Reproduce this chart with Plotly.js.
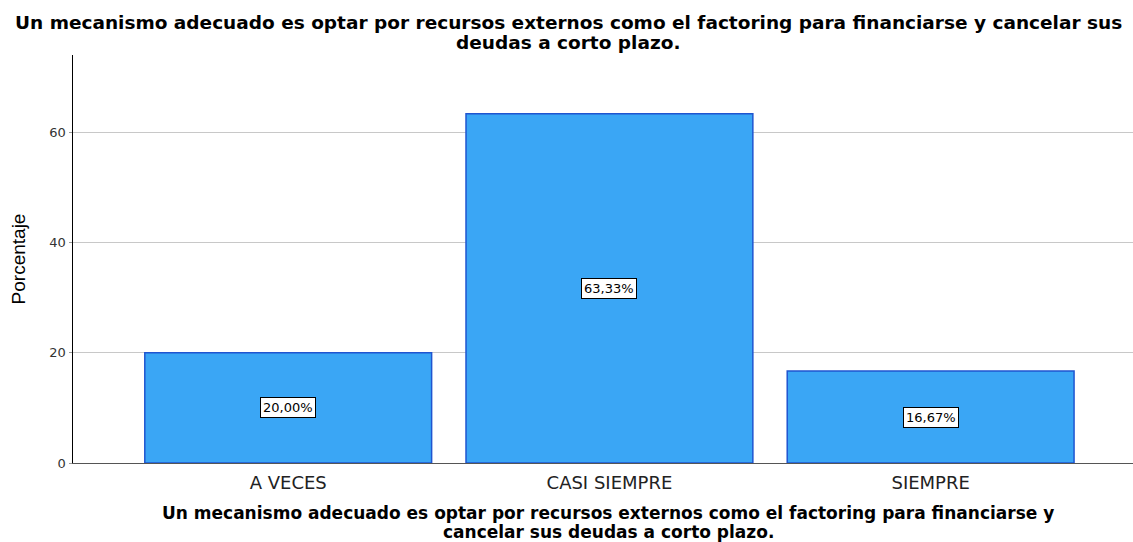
<!DOCTYPE html>
<html>
<head>
<meta charset="utf-8">
<script src="https://cdn.plot.ly/plotly-3.0.1.min.js"></script>
<style>html,body{margin:0;padding:0;background:#fff;}#chart{width:1133px;height:542px;}</style>
</head>
<body>
<div id="chart"></div>
<script>
const categories = ["A VECES", "CASI SIEMPRE", "SIEMPRE"];
const values = [20.00, 63.33, 16.67];
const labels = ["20,00%", "63,33%", "16,67%"];
const yTicks = [0, 20, 40, 60];
const titleLines = ["Un mecanismo adecuado es optar por recursos externos como el factoring para financiarse y cancelar sus", "deudas a corto plazo."];
const xTitleLines = ["Un mecanismo adecuado es optar por recursos externos como el factoring para financiarse y", "cancelar sus deudas a corto plazo."];
const yTitle = "Porcentaje";

const FONT = "DejaVu Sans, Liberation Sans, Arial";

const trace = {
  type: "bar",
  x: categories,
  y: values,
  width: 0.893,
  marker: {color: "#3aa6f5", line: {color: "#1f55d0", width: 1.5}},
  hoverinfo: "none"
};

const annotations = categories.map((c, i) => ({
  x: c, y: values[i] / 2, xref: "x", yref: "y",
  text: labels[i], showarrow: false,
  font: {family: FONT, size: 13, color: "#000"},
  bgcolor: "#fff", bordercolor: "#000", borderwidth: 1, borderpad: 2
}));

const titleY = [22, 42];
titleLines.forEach((t, i) => annotations.push({
  xref: "paper", yref: "paper", x: (568 - 73) / 1060, y: 1 + (55 - titleY[i]) / 408,
  xanchor: "center", yanchor: "middle", showarrow: false,
  text: "<b>" + t + "</b>", font: {family: FONT, size: 18.5, color: "#000"}
}));
const xTitleY = [513, 532];
xTitleLines.forEach((t, i) => annotations.push({
  xref: "paper", yref: "paper", x: (608 - 73) / 1060, y: -(xTitleY[i] - 463) / 408,
  xanchor: "center", yanchor: "middle", showarrow: false,
  text: "<b>" + t + "</b>", font: {family: FONT, size: 17, color: "#000"}
}));

const layout = {
  width: 1133, height: 542,
  margin: {l: 73, r: 0, t: 55, b: 79},
  paper_bgcolor: "#fff", plot_bgcolor: "#fff",
  showlegend: false,
  xaxis: {
    type: "category",
    range: [-0.67, 2.63],
    showgrid: false,
    showline: true, linecolor: "#555", linewidth: 1,
    ticks: "outside", ticklen: 3, tickcolor: "rgba(0,0,0,0)",
    tickfont: {family: FONT, size: 18, color: "#222"}
  },
  yaxis: {
    range: [0, 74],
    tickvals: yTicks,
    ticktext: yTicks.map(String),
    showgrid: true, gridcolor: "#c8c8c8", gridwidth: 1,
    zeroline: false,
    showline: true, linecolor: "#000", linewidth: 1.5,
    ticks: "outside", ticklen: 3, tickcolor: "#999",
    tickfont: {family: FONT, size: 13, color: "#333"},
    title: {text: yTitle, font: {family: "Liberation Sans, Arial", size: 19, color: "#000"}, standoff: 18}
  },
  annotations: annotations
};

Plotly.newPlot("chart", [trace], layout, {staticPlot: true, displayModeBar: false});
</script>
</body>
</html>
